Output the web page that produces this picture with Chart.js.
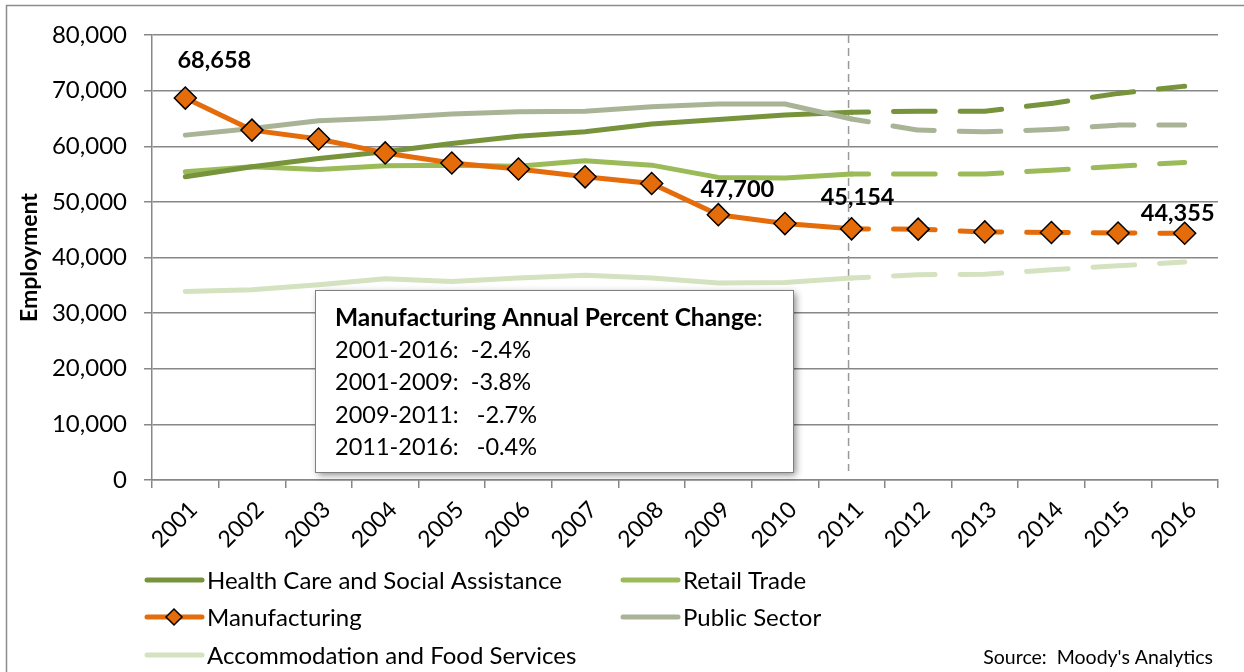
<!DOCTYPE html>
<html>
<head>
<meta charset="utf-8">
<title>Employment by Industry</title>
<script src="https://cdn.jsdelivr.net/npm/chart.js@4.4.1/dist/chart.umd.min.js"></script>
<style>
  html, body { margin: 0; padding: 0; background: #fff; }
  #wrap { position: relative; width: 1244px; height: 672px; }
</style>
</head>
<body>
<div id="wrap"><canvas id="chart"></canvas></div>
<script>
const years = ['2001', '2002', '2003', '2004', '2005', '2006', '2007', '2008',
               '2009', '2010', '2011', '2012', '2013', '2014', '2015', '2016'];

const healthCare    = [54500, 56300, 57800, 59000, 60500, 61800, 62600, 64000, 64800, 65600, 66100, 66300, 66300, 67700, 69500, 70800];
const retailTrade   = [55400, 56300, 55800, 56500, 56600, 56400, 57400, 56600, 54400, 54300, 55000, 55000, 55000, 55700, 56400, 57100];
const manufacturing = [68658, 62900, 61300, 58800, 57000, 55900, 54500, 53300, 47700, 46100, 45154, 45100, 44600, 44500, 44400, 44355];
const publicSector  = [62000, 63200, 64600, 65100, 65800, 66200, 66300, 67100, 67600, 67600, 64900, 62900, 62600, 63000, 63800, 63800];
const accommodation = [33900, 34200, 35100, 36200, 35700, 36300, 36800, 36300, 35400, 35500, 36300, 36900, 37000, 37800, 38500, 39200];

const yTicks = [0, 10000, 20000, 30000, 40000, 50000, 60000, 70000, 80000];

// manufacturing points that carry a value label
const labelledPoints = [0, 8, 10, 15];

// first year of the projection (index into years)
const forecastStart = 10;

const changeTitle = 'Manufacturing Annual Percent Change';
const changePeriods = ['2001-2016:  -2.4%', '2001-2009:  -3.8%', '2009-2011:   -2.7%', '2011-2016:   -0.4%'];

const FONT = 'Lato, "Open Sans", sans-serif';
Chart.defaults.font.family = FONT;
Chart.defaults.color = '#000';

const DASH = [17, 25, 24.6, 0];

function series(label, data, color, order) {
  return {
    label: label,
    data: data,
    borderColor: color,
    backgroundColor: color,
    borderWidth: 5,
    borderCapStyle: 'round',
    borderJoinStyle: 'round',
    tension: 0,
    pointRadius: 0,
    pointHoverRadius: 0,
    order: order,
    segment: {
      borderDash: ctx => ctx.p0DataIndex >= forecastStart ? DASH : undefined
    }
  };
}

const mfg = series('Manufacturing', manufacturing, '#E46C0A', 0);
mfg.pointStyle = 'rectRot';
mfg.pointRadius = 11;
mfg.pointBackgroundColor = '#E46C0A';
mfg.pointBorderColor = '#000';
mfg.pointBorderWidth = 1.5;

const datasets = [
  series('Health Care and Social Assistance', healthCare, '#77933C', 2),
  series('Retail Trade', retailTrade, '#9BBB59', 3),
  mfg,
  series('Public Sector', publicSector, '#A9B497', 1),
  series('Accommodation and Food Services', accommodation, '#D4E2C0', 4)
];

const extras = {
  id: 'extras',
  beforeDraw(chart) {
    const ctx = chart.ctx;
    ctx.save();
    ctx.fillStyle = '#fff';
    ctx.fillRect(0, 0, chart.width, chart.height);
    ctx.strokeStyle = '#8c8c8c';
    ctx.lineWidth = 1.5;
    ctx.strokeRect(6.5, 5.5, chart.width + 20, chart.height + 20);
    ctx.restore();
  },
  beforeDatasetsDraw(chart) {
    // marker for the start of the projection
    const ctx = chart.ctx;
    const x = chart.scales.x.getPixelForValue(forecastStart) - 3;
    ctx.save();
    ctx.strokeStyle = '#9a9a9a';
    ctx.lineWidth = 1.5;
    ctx.setLineDash([8, 5]);
    ctx.beginPath();
    ctx.moveTo(x, chart.chartArea.top);
    ctx.lineTo(x, 471);
    ctx.stroke();
    ctx.restore();
  },
  afterDraw(chart) {
    const ctx = chart.ctx;
    const meta = chart.getDatasetMeta(2);
    const offsets = { 0: [29, -38], 8: [19, -25], 10: [6, -31], 15: [-7, -20] };

    ctx.save();
    ctx.font = 'bold 23.5px ' + FONT;
    ctx.fillStyle = '#000';
    ctx.textAlign = 'center';
    ctx.textBaseline = 'middle';
    labelledPoints.forEach(i => {
      const pt = meta.data[i];
      const o = offsets[i];
      ctx.fillText(manufacturing[i].toLocaleString('en-US'), pt.x + o[0], pt.y + o[1]);
    });
    ctx.restore();

    // percent change box
    ctx.save();
    ctx.shadowColor = 'rgba(0,0,0,0.45)';
    ctx.shadowBlur = 7;
    ctx.shadowOffsetX = 3;
    ctx.shadowOffsetY = 3;
    ctx.fillStyle = '#fff';
    ctx.fillRect(315, 290, 478, 182);
    ctx.restore();
    ctx.save();
    ctx.strokeStyle = '#7f7f7f';
    ctx.lineWidth = 1;
    ctx.strokeRect(315.5, 290.5, 478, 182);
    ctx.fillStyle = '#000';
    ctx.textBaseline = 'middle';
    ctx.textAlign = 'left';
    ctx.font = 'bold 24.5px ' + FONT;
    ctx.fillText(changeTitle, 335, 318);
    const tw = ctx.measureText(changeTitle).width;
    ctx.font = '24px ' + FONT;
    ctx.fillText(':', 335 + tw, 318);
    ctx.font = '23.5px ' + FONT;
    changePeriods.forEach((t, i) => ctx.fillText(t, 335, 350 + i * 32.5));
    ctx.restore();

    // legend, two columns
    const cols = [147, 623];
    const rows = [580, 617, 655];
    ctx.save();
    ctx.font = '24px ' + FONT;
    ctx.textBaseline = 'middle';
    chart.data.datasets.forEach((ds, i) => {
      const x = cols[i % 2];
      const y = rows[Math.floor(i / 2)];
      ctx.strokeStyle = ds.borderColor;
      ctx.lineWidth = 5;
      ctx.lineCap = 'round';
      ctx.beginPath();
      ctx.moveTo(x, y);
      ctx.lineTo(x + 55, y);
      ctx.stroke();
      if (ds.pointStyle) {
        ctx.fillStyle = ds.pointBackgroundColor;
        ctx.strokeStyle = ds.pointBorderColor;
        ctx.lineWidth = 1.5;
        const r = 8;
        const cx = x + 27;
        ctx.beginPath();
        ctx.moveTo(cx, y - r);
        ctx.lineTo(cx + r, y);
        ctx.lineTo(cx, y + r);
        ctx.lineTo(cx - r, y);
        ctx.closePath();
        ctx.fill();
        ctx.stroke();
      }
      ctx.fillStyle = '#000';
      ctx.fillText(ds.label, x + 60, y + 1);
    });
    ctx.font = '19.5px ' + FONT;
    ctx.textAlign = 'right';
    ctx.fillText("Source:  Moody's Analytics", 1213, 658);
    ctx.restore();
  }
};

new Chart(document.getElementById('chart'), {
  type: 'line',
  data: { labels: years, datasets: datasets },
  options: {
    responsive: true,
    maintainAspectRatio: false,
    animation: false,
    layout: { padding: { left: 0, top: 35, right: 26, bottom: 0 } },
    plugins: {
      legend: { display: false },
      tooltip: { enabled: false }
    },
    scales: {
      x: {
        offset: true,
        ticks: { autoSkip: false, minRotation: 45, maxRotation: 45, padding: 8, labelOffset: 8, font: { size: 23 }, color: '#000' },
        grid: { offset: true, drawOnChartArea: false, color: '#878787', lineWidth: 1.5, tickLength: 8 },
        border: { color: '#878787', width: 1.5 },
        afterFit(scale) { scale.height = 192; }
      },
      y: {
        min: 0,
        max: 80000,
        afterBuildTicks(scale) { scale.ticks = yTicks.map(v => ({ value: v })); },
        ticks: { padding: 17, font: { size: 24 }, color: '#000', callback: v => v.toLocaleString('en-US') },
        grid: { color: '#878787', lineWidth: 1.5, tickLength: 8 },
        border: { color: '#878787', width: 1.5 },
        title: { display: true, text: 'Employment', font: { size: 23, weight: 'bold' }, color: '#000', padding: { top: 16, bottom: 0 } },
        afterFit(scale) { scale.width = 152; }
      }
    }
  },
  plugins: [extras]
});
</script>
</body>
</html>
